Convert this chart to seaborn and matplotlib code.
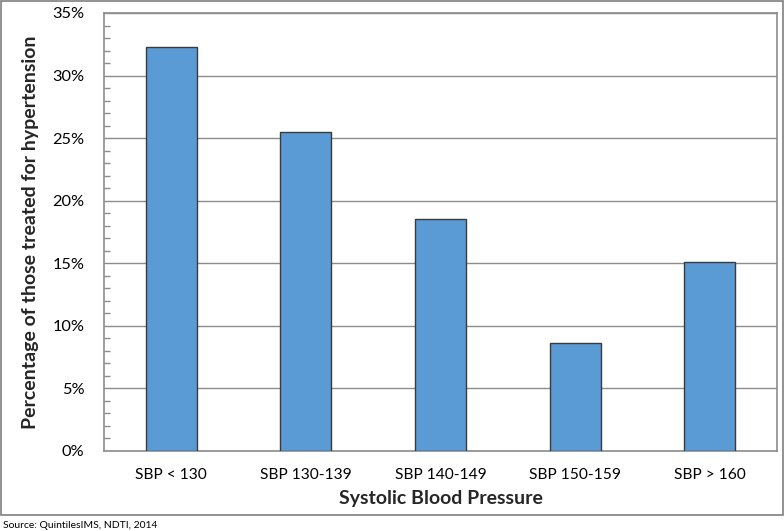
import matplotlib
matplotlib.use("Agg")
import matplotlib.pyplot as plt
import seaborn as sns
import pandas as pd
from matplotlib.patches import Rectangle
from matplotlib.ticker import MultipleLocator, FuncFormatter

categories = ["SBP < 130", "SBP 130-139", "SBP 140-149", "SBP 150-159", "SBP > 160"]
values = [32.3, 25.5, 18.5, 8.6, 15.1]
y_ticks = [0, 5, 10, 15, 20, 25, 30, 35]

df = pd.DataFrame({"cat": categories, "val": values})

sns.set_theme(style="white")
plt.rcParams['font.family'] = ['Lato', 'DejaVu Sans']

W, H = 784, 531
fig = plt.figure(figsize=(W / 100, H / 100), dpi=100)
fig.patch.set_facecolor("white")
ax = fig.add_axes([104 / W, (H - 451) / H, 673 / W, 438 / H])

sns.barplot(data=df, x="cat", y="val", ax=ax, color="#5B9BD5", width=0.38,
            edgecolor="#3a3a3a", linewidth=1, saturation=1, zorder=3)

grey = "#8c8c8c"
ax.set_ylim(0, 35)
ax.set_yticks(y_ticks)
ax.yaxis.set_minor_locator(MultipleLocator(1))
ax.yaxis.set_major_formatter(FuncFormatter(lambda v, p: f"{int(v)}%"))
ax.grid(axis="y", which="major", color=grey, linewidth=1, zorder=0)
ax.set_axisbelow(True)
for s in ax.spines.values():
    s.set_color(grey)
    s.set_linewidth(1.2)
    s.set_visible(True)
ax.tick_params(axis="y", which="both", direction="in", length=4, color=grey,
               labelsize=11.8, pad=14, labelcolor="black", left=True)
ax.tick_params(axis="y", which="major", length=0)
ax.tick_params(axis="x", length=0, labelsize=11.2, pad=12, labelcolor="black")

ax.set_xlabel("Systolic Blood Pressure", fontsize=14, fontweight="bold", labelpad=6)
ax.set_ylabel("Percentage of those treated for hypertension", fontsize=14,
              fontweight="bold", labelpad=10)

fig.patches.append(Rectangle((1 / W, (H - 515) / H), 782 / W, 514 / H,
                             transform=fig.transFigure, fill=False,
                             edgecolor="#7f7f7f", linewidth=1.2))
fig.text(3 / W, 1 - 525 / H, "Source: QuintilesIMS, NDTI, 2014", fontsize=7.5,
         va="center", ha="left", color="black")

fig.savefig("out.png", dpi=100)
